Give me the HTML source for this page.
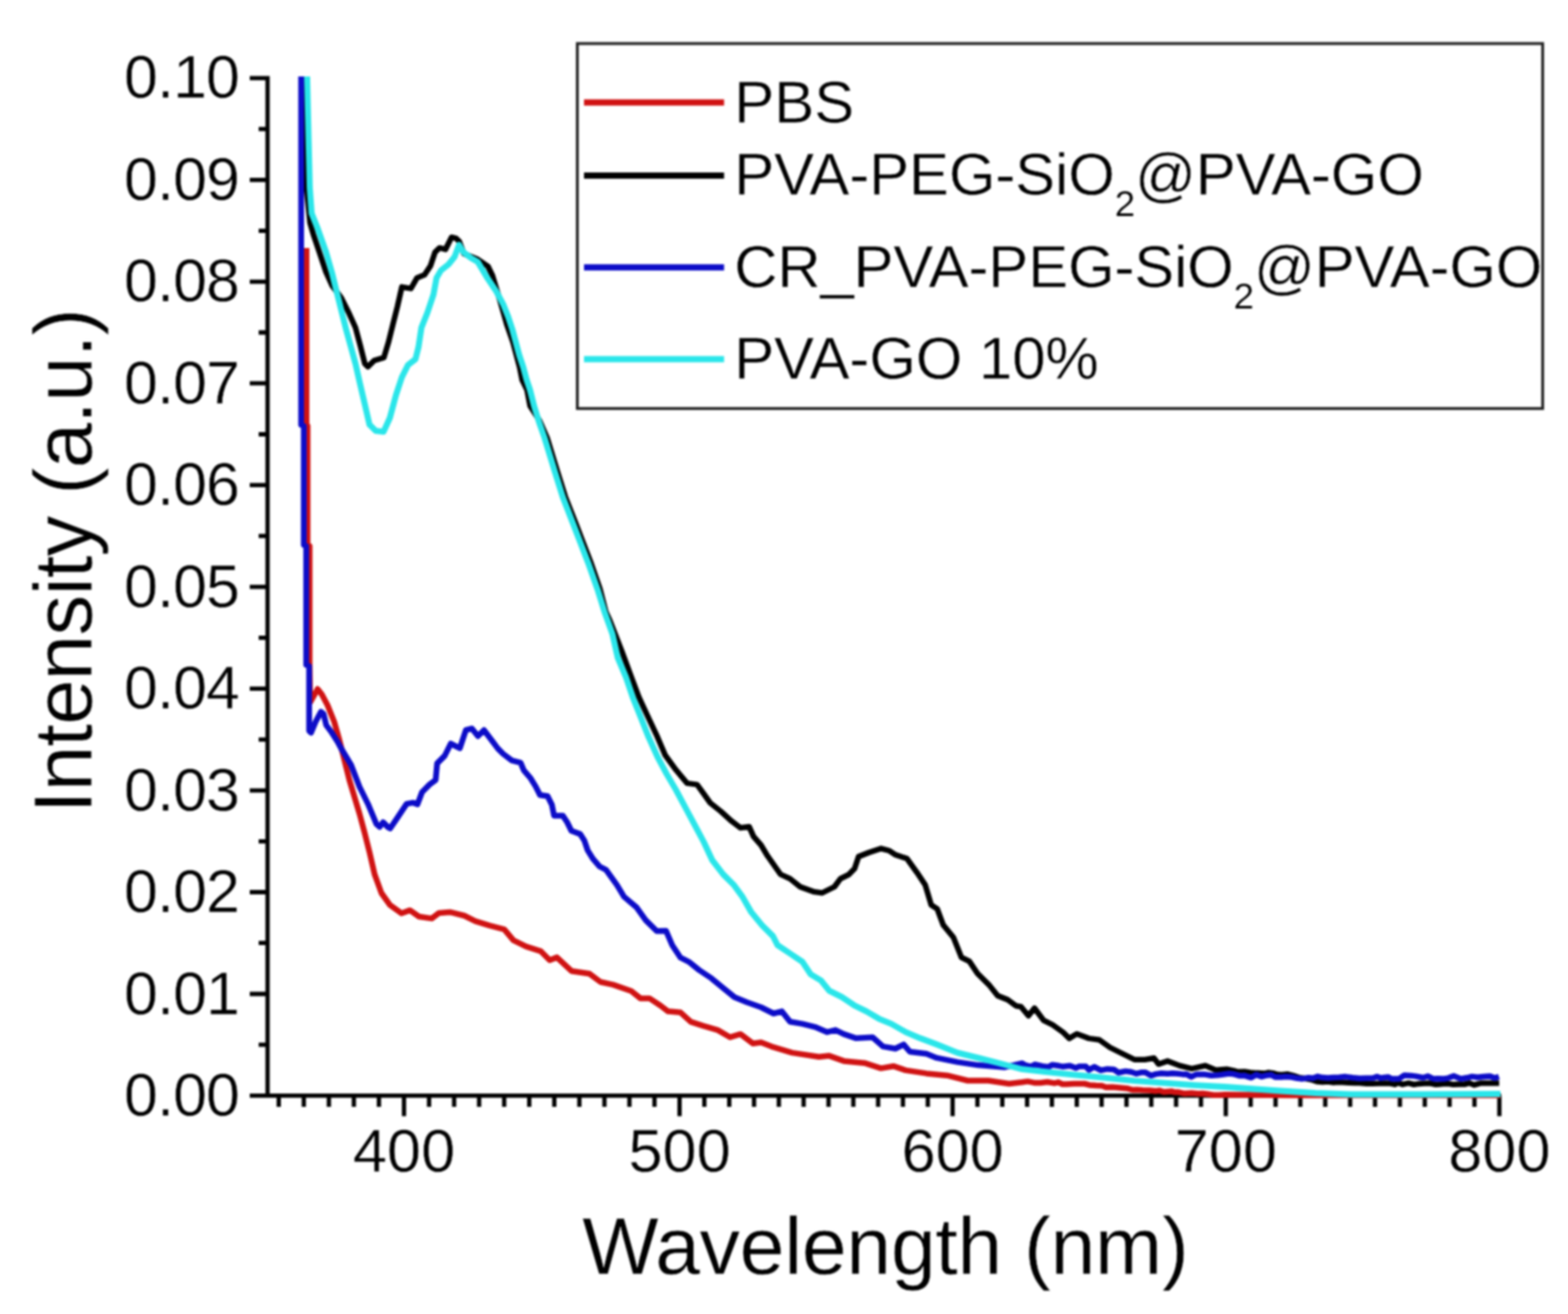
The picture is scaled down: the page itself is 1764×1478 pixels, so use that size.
<!DOCTYPE html>
<html><head><meta charset="utf-8"><title>Intensity vs Wavelength</title>
<style>
html,body{margin:0;padding:0;background:#fff;overflow:hidden;}
svg{display:block;filter:blur(1.0px);}
text{font-family:"Liberation Sans",Arial,Helvetica,sans-serif;fill:#000;stroke:#fff;stroke-width:0.5px;paint-order:normal;}
</style></head><body>
<svg width="1764" height="1478" viewBox="0 0 1764 1478">
<rect width="1764" height="1478" fill="#fff"/>

<path d="M281,87.9 H301.0 V1234.4 M281,1232.4 H1688.8 M281,1232.4 H301.0 M281,1118.0 H301.0 M281,1003.5 H301.0 M281,889.1 H301.0 M281,774.6 H301.0 M281,660.2 H301.0 M281,545.7 H301.0 M281,431.2 H301.0 M281,316.8 H301.0 M281,202.4 H301.0 M291,1175.2 H301.0 M291,1060.7 H301.0 M291,946.3 H301.0 M291,831.8 H301.0 M291,717.4 H301.0 M291,602.9 H301.0 M291,488.5 H301.0 M291,374.0 H301.0 M291,259.6 H301.0 M291,145.1 H301.0 M313.6,1232.4 V1245 M341.8,1232.4 V1245 M370.0,1232.4 V1245 M398.1,1232.4 V1245 M426.3,1232.4 V1245 M454.5,1232.4 V1255.5 M482.7,1232.4 V1245 M510.9,1232.4 V1245 M539.0,1232.4 V1245 M567.2,1232.4 V1245 M595.4,1232.4 V1245 M623.6,1232.4 V1245 M651.8,1232.4 V1245 M680.0,1232.4 V1245 M708.1,1232.4 V1245 M736.3,1232.4 V1245 M764.5,1232.4 V1255.5 M792.4,1232.4 V1245 M820.4,1232.4 V1245 M848.3,1232.4 V1245 M876.2,1232.4 V1245 M904.1,1232.4 V1245 M932.1,1232.4 V1245 M960.0,1232.4 V1245 M987.9,1232.4 V1245 M1015.8,1232.4 V1245 M1043.8,1232.4 V1245 M1071.7,1232.4 V1255.5 M1099.6,1232.4 V1245 M1127.6,1232.4 V1245 M1155.5,1232.4 V1245 M1183.4,1232.4 V1245 M1211.4,1232.4 V1245 M1239.3,1232.4 V1245 M1267.3,1232.4 V1245 M1295.2,1232.4 V1245 M1323.1,1232.4 V1245 M1351.1,1232.4 V1245 M1379.0,1232.4 V1255.5 M1407.0,1232.4 V1245 M1435.0,1232.4 V1245 M1462.9,1232.4 V1245 M1490.9,1232.4 V1245 M1518.9,1232.4 V1245 M1546.9,1232.4 V1245 M1574.9,1232.4 V1245 M1602.9,1232.4 V1245 M1630.8,1232.4 V1245 M1658.8,1232.4 V1245 M1686.8,1232.4 V1255.5" fill="none" stroke="#000" stroke-width="4.8" stroke-linecap="butt" stroke-linejoin="miter"/>
<path d="M344.8,279.0 L344.8,478.0 L346.0,479.0 L346.0,613.0 L348.3,614.0 L348.3,749.0 L349.0,790.0 L353.5,782.0 L357.3,775.0 L362.0,781.0 L368.5,793.3 L376.0,811.9 L381.7,832.0 L387.4,854.8 L393.1,877.5 L398.8,896.5 L404.5,915.5 L410.1,936.3 L415.8,959.0 L421.5,983.7 L429.1,1004.5 L438.6,1017.8 L451.8,1027.3 L461.2,1023.9 L471.4,1031.0 L485.7,1033.1 L493.9,1026.9 L506.1,1025.9 L522.4,1030.0 L534.7,1036.1 L551.0,1041.2 L567.3,1045.3 L577.6,1057.6 L591.8,1064.7 L608.2,1069.8 L618.4,1080.0 L626.5,1076.9 L642.9,1092.2 L663.3,1095.3 L675.5,1104.5 L689.8,1107.6 L710.2,1114.7 L720.4,1122.9 L730.6,1122.9 L742.9,1131.0 L751.6,1137.6 L765.6,1138.8 L777.2,1149.3 L791.1,1153.9 L807.4,1158.6 L821.4,1166.7 L833.0,1163.2 L846.9,1173.7 L856.2,1172.5 L867.8,1177.1 L891.1,1184.1 L921.3,1188.8 L932.9,1187.6 L949.2,1193.4 L972.5,1195.7 L991.0,1201.6 L1005.0,1199.2 L1018.9,1203.9 L1042.2,1207.4 L1065.4,1209.7 L1088.7,1215.5 L1111.9,1215.5 L1135.2,1219.0 L1150.0,1217.3 L1156.2,1216.4 L1163.5,1217.9 L1170.6,1217.9 L1178.2,1217.0 L1186.1,1218.4 L1190.7,1217.3 L1195.2,1219.5 L1199.8,1219.5 L1208.0,1219.1 L1212.1,1219.1 L1220.1,1219.0 L1225.5,1220.4 L1233.1,1221.0 L1239.6,1221.2 L1244.2,1223.0 L1251.4,1222.7 L1259.6,1223.4 L1267.7,1224.2 L1273.8,1225.9 L1278.9,1225.7 L1285.4,1226.3 L1293.5,1226.6 L1299.9,1227.3 L1304.2,1226.6 L1309.7,1228.3 L1317.8,1227.5 L1321.7,1228.6 L1326.2,1228.6 L1332.7,1230.1 L1340.6,1229.6 L1348.1,1230.3 L1352.8,1230.0 L1357.4,1230.4 L1365.1,1231.7 L1371.1,1231.7 L1377.8,1231.2 L1450.0,1232.0 L1688.0,1232.0" fill="none" stroke="#d01212" stroke-width="6.5" stroke-linejoin="round" stroke-linecap="butt"/>
<path d="M344.0,86.0 L344.5,150.0 L344.8,211.0 L348.8,250.6 L352.3,262.9 L359.4,284.0 L366.4,305.1 L373.5,321.0 L384.0,335.1 L392.8,352.7 L399.9,368.5 L405.1,387.9 L410.4,409.0 L413.9,412.5 L421.0,405.5 L431.8,402.3 L436.9,385.4 L442.0,365.1 L447.1,344.8 L452.1,322.8 L462.3,324.5 L469.1,312.6 L477.5,309.2 L484.3,299.1 L489.4,283.8 L494.5,278.8 L501.2,280.5 L508.0,266.9 L513.0,268.0 L516.6,271.5 L521.9,285.3 L536.8,291.3 L548.9,299.5 L554.0,310.0 L562.8,339.2 L570.4,365.8 L577.0,384.7 L584.6,413.1 L587.4,427.3 L592.9,438.7 L596.3,456.5 L606.8,472.9 L615.5,492.5 L627.5,531.6 L636.0,558.8 L648.0,589.5 L656.5,611.6 L665.0,633.7 L675.0,662.6 L681.5,688.1 L686.0,697.9 L699.4,732.1 L709.8,760.4 L718.7,784.2 L729.1,806.5 L739.6,828.9 L748.5,849.7 L760.5,866.1 L773.0,881.0 L784.2,882.5 L791.7,892.9 L799.0,903.1 L811.2,912.9 L823.3,923.8 L833.1,931.2 L842.8,929.9 L847.7,940.9 L856.2,950.6 L863.5,962.8 L872.1,975.0 L878.1,983.5 L888.8,988.4 L900.2,997.5 L916.1,1003.2 L925.1,1004.3 L938.7,997.5 L945.5,988.4 L954.6,983.9 L961.4,977.1 L965.9,963.5 L977.3,959.0 L990.9,954.4 L1000.0,956.7 L1006.8,961.2 L1020.4,965.8 L1031.7,981.6 L1040.8,995.2 L1047.6,1017.9 L1054.4,1022.4 L1061.2,1040.6 L1072.5,1054.2 L1081.6,1076.9 L1090.7,1081.4 L1099.7,1095.0 L1113.3,1108.6 L1122.4,1120.0 L1133.7,1124.5 L1142.8,1131.3 L1148.5,1132.3 L1157.0,1142.5 L1163.8,1134.0 L1174.0,1147.6 L1184.2,1152.7 L1196.1,1161.2 L1202.9,1168.0 L1211.4,1162.9 L1225.0,1168.0 L1236.9,1169.7 L1248.8,1178.2 L1262.4,1185.0 L1276.1,1191.8 L1288.0,1191.8 L1298.2,1190.1 L1303.3,1196.9 L1313.5,1193.5 L1327.1,1198.6 L1340.7,1202.0 L1356.0,1198.6 L1367.9,1203.7 L1380.0,1202.7 L1388.0,1204.3 L1391.9,1205.6 L1400.1,1205.3 L1406.5,1206.3 L1411.7,1206.8 L1415.6,1207.0 L1421.9,1207.5 L1426.5,1206.5 L1432.1,1207.1 L1437.5,1208.7 L1442.1,1208.9 L1448.7,1208.2 L1454.6,1209.8 L1461.5,1212.1 L1468.6,1213.2 L1476.4,1214.7 L1482.3,1216.7 L1488.0,1217.1 L1493.5,1216.7 L1500.3,1217.6 L1505.4,1217.2 L1510.0,1217.4 L1517.4,1217.8 L1524.0,1218.1 L1529.4,1218.0 L1537.3,1218.8 L1543.5,1218.8 L1551.3,1218.6 L1557.1,1218.3 L1564.2,1218.7 L1569.0,1219.8 L1572.8,1218.0 L1578.0,1219.8 L1584.5,1218.3 L1590.6,1219.9 L1596.4,1219.0 L1602.6,1218.7 L1608.4,1218.4 L1615.3,1219.8 L1619.0,1219.7 L1625.7,1218.8 L1630.5,1219.2 L1634.7,1219.9 L1642.0,1219.5 L1647.6,1219.6 L1652.8,1218.2 L1658.3,1220.4 L1666.3,1218.3 L1673.2,1218.4 L1679.9,1218.4 L1686.6,1218.4" fill="none" stroke="#000000" stroke-width="6.3" stroke-linejoin="round" stroke-linecap="butt"/>
<path d="M338.8,86.0 L338.8,478.0 L341.8,479.0 L341.8,613.0 L344.5,614.0 L344.5,748.0 L347.8,749.0 L347.8,822.0 L350.0,824.0 L355.0,812.0 L361.0,800.7 L364.0,803.0 L367.0,815.6 L372.2,822.6 L379.7,834.2 L383.6,841.5 L395.0,860.5 L404.5,885.1 L413.9,904.1 L423.4,926.8 L427.1,930.1 L431.0,924.9 L436.7,930.6 L439.0,931.8 L446.2,921.1 L457.5,904.1 L464.6,902.9 L469.7,904.6 L474.8,891.0 L483.3,882.4 L490.1,877.3 L491.8,858.6 L500.3,850.1 L507.1,836.5 L517.3,841.6 L524.1,821.2 L530.9,819.5 L537.7,828.0 L544.5,821.2 L554.7,834.8 L560.0,841.9 L566.1,848.0 L575.8,855.3 L585.6,857.8 L589.2,866.3 L596.5,874.8 L602.6,884.6 L607.5,894.3 L616.0,895.5 L620.9,905.3 L623.3,917.4 L633.1,917.4 L638.0,924.7 L642.8,934.5 L652.6,938.1 L657.4,945.5 L661.1,956.4 L667.2,966.2 L674.5,974.7 L681.8,978.3 L687.9,986.9 L694.0,995.4 L702.0,1008.6 L716.3,1020.8 L726.5,1035.1 L738.8,1047.3 L749.3,1047.0 L756.3,1063.2 L765.6,1077.2 L774.9,1081.8 L786.5,1091.1 L800.4,1100.4 L814.4,1112.1 L826.0,1121.4 L840.0,1127.2 L856.2,1133.0 L870.2,1140.0 L879.5,1137.6 L888.8,1149.3 L902.7,1151.6 L916.7,1155.1 L930.6,1160.9 L939.9,1158.6 L949.2,1163.2 L963.2,1167.8 L981.7,1166.7 L993.4,1177.1 L1007.3,1179.5 L1016.6,1174.8 L1023.6,1183.0 L1042.2,1185.3 L1053.8,1189.9 L1077.1,1194.6 L1100.3,1198.1 L1130.5,1200.4 L1150.0,1196.0 L1153.8,1198.2 L1159.5,1199.6 L1164.7,1197.3 L1172.7,1199.1 L1179.6,1200.2 L1184.0,1197.7 L1191.2,1198.8 L1195.3,1199.7 L1203.7,1198.8 L1210.3,1201.3 L1214.2,1199.6 L1221.5,1199.6 L1225.1,1203.4 L1231.0,1200.0 L1238.4,1203.9 L1245.8,1202.4 L1253.2,1203.0 L1258.4,1206.5 L1266.3,1204.9 L1272.7,1205.7 L1278.5,1207.7 L1284.6,1206.2 L1288.3,1206.2 L1295.0,1209.8 L1300.3,1208.1 L1306.6,1207.2 L1313.5,1207.7 L1319.2,1207.2 L1325.7,1207.8 L1330.5,1208.4 L1334.9,1208.3 L1340.0,1211.2 L1346.1,1208.4 L1354.5,1208.4 L1362.7,1209.7 L1370.3,1209.2 L1374.4,1208.7 L1382.7,1207.5 L1386.9,1207.9 L1394.8,1210.0 L1400.2,1209.8 L1407.4,1212.1 L1413.3,1208.9 L1419.1,1211.0 L1425.6,1209.4 L1430.3,1209.1 L1434.5,1211.5 L1441.5,1211.5 L1446.4,1210.9 L1453.3,1211.5 L1459.1,1212.8 L1465.3,1213.4 L1472.1,1212.2 L1477.1,1212.8 L1482.4,1210.8 L1487.7,1212.1 L1493.9,1212.6 L1500.2,1211.9 L1506.7,1211.7 L1513.6,1211.1 L1521.9,1212.3 L1529.5,1212.9 L1537.1,1212.7 L1545.1,1212.6 L1549.1,1210.9 L1553.3,1212.8 L1557.5,1211.9 L1561.6,1211.5 L1565.3,1213.4 L1573.6,1213.6 L1579.8,1209.5 L1587.6,1209.9 L1593.1,1210.6 L1601.0,1212.3 L1606.2,1210.5 L1612.8,1213.6 L1617.6,1213.2 L1624.4,1213.5 L1629.5,1212.6 L1635.4,1210.2 L1643.5,1213.5 L1650.5,1212.3 L1656.0,1210.9 L1662.3,1211.7 L1669.3,1210.9 L1676.2,1210.5 L1681.6,1212.6 L1686.3,1211.0" fill="none" stroke="#0c0cc8" stroke-width="6.5" stroke-linejoin="round" stroke-linecap="butt"/>
<path d="M345.5,86.0 L347.0,150.0 L348.5,211.0 L350.6,240.0 L357.6,257.6 L366.4,282.3 L373.5,306.9 L378.7,328.0 L384.0,349.2 L389.3,370.3 L394.6,389.6 L399.9,409.0 L405.1,431.9 L410.4,454.8 L415.7,477.7 L422.7,484.7 L431.5,485.6 L438.6,470.0 L445.4,444.6 L452.1,424.3 L458.9,410.7 L467.4,404.0 L470.8,390.4 L474.1,368.4 L480.9,351.5 L487.7,331.2 L491.1,312.6 L496.1,304.1 L504.6,297.4 L511.4,288.9 L516.4,275.4 L521.5,283.8 L529.4,289.8 L537.6,294.7 L548.9,313.7 L558.4,327.9 L566.0,342.1 L571.7,356.3 L576.4,370.5 L580.2,384.7 L584.0,398.9 L588.7,413.1 L592.5,427.3 L596.3,438.7 L600.8,456.5 L606.8,475.9 L612.6,492.5 L624.5,531.6 L633.0,558.8 L644.9,589.5 L653.4,611.6 L661.9,633.7 L672.1,662.6 L680.0,688.1 L688.9,712.8 L694.9,739.6 L704.3,761.9 L711.8,784.2 L720.7,806.5 L729.6,828.9 L739.6,851.2 L750.0,870.6 L760.4,888.4 L772.2,910.5 L781.9,928.7 L791.7,947.0 L801.4,967.7 L813.6,983.5 L825.8,995.7 L835.5,1009.1 L845.3,1026.2 L857.4,1040.8 L869.6,1053.0 L874.8,1063.2 L888.8,1072.5 L902.7,1081.8 L912.0,1095.8 L923.6,1102.8 L932.9,1114.4 L946.9,1121.4 L960.8,1130.7 L974.8,1137.6 L988.7,1145.8 L1002.7,1151.6 L1018.9,1160.9 L1035.2,1167.8 L1053.8,1174.8 L1077.1,1184.1 L1100.3,1189.9 L1123.5,1195.7 L1150.0,1202.7 L1174.0,1205.4 L1208.0,1208.8 L1242.0,1212.2 L1276.0,1215.6 L1310.0,1218.2 L1344.0,1220.7 L1378.0,1222.5 L1412.0,1225.0 L1440.0,1227.0 L1480.0,1229.5 L1520.0,1231.0 L1600.0,1231.0 L1688.0,1230.5" fill="none" stroke="#2ae6ea" stroke-width="6.8" stroke-linejoin="round" stroke-linecap="butt"/>
<text x="268.9" y="1254.9" font-size="68.5" text-anchor="end" letter-spacing="-1">0.00</text>
<text x="268.9" y="1140.5" font-size="68.5" text-anchor="end" letter-spacing="-1">0.01</text>
<text x="268.9" y="1026.0" font-size="68.5" text-anchor="end" letter-spacing="-1">0.02</text>
<text x="268.9" y="911.6" font-size="68.5" text-anchor="end" letter-spacing="-1">0.03</text>
<text x="268.9" y="797.1" font-size="68.5" text-anchor="end" letter-spacing="-1">0.04</text>
<text x="268.9" y="682.7" font-size="68.5" text-anchor="end" letter-spacing="-1">0.05</text>
<text x="268.9" y="568.2" font-size="68.5" text-anchor="end" letter-spacing="-1">0.06</text>
<text x="268.9" y="453.8" font-size="68.5" text-anchor="end" letter-spacing="-1">0.07</text>
<text x="268.9" y="339.3" font-size="68.5" text-anchor="end" letter-spacing="-1">0.08</text>
<text x="268.9" y="224.9" font-size="68.5" text-anchor="end" letter-spacing="-1">0.09</text>
<text x="268.9" y="110.4" font-size="68.5" text-anchor="end" letter-spacing="-1">0.10</text>
<text x="454.5" y="1317.5" font-size="69" text-anchor="middle">400</text>
<text x="764.5" y="1317.5" font-size="69" text-anchor="middle">500</text>
<text x="1071.7" y="1317.5" font-size="69" text-anchor="middle">600</text>
<text x="1379.0" y="1317.5" font-size="69" text-anchor="middle">700</text>
<text x="1686.8" y="1317.5" font-size="69" text-anchor="middle">800</text>
<text x="996" y="1433" font-size="91" text-anchor="middle" letter-spacing="-0.5">Wavelength (nm)</text>
<text transform="translate(102.5,631.2) rotate(-90)" font-size="92" text-anchor="middle" letter-spacing="-1.0">Intensity (a.u.)</text>
<rect x="649.5" y="49" width="1086" height="410.5" fill="#fff" stroke="#222" stroke-width="3.2"/>
<path d="M657,115.2 H814.6" stroke="#d01212" stroke-width="7"/>
<text x="825.9" y="138" font-size="67.5" letter-spacing="0.0">PBS</text>
<path d="M657,197.5 H814.6" stroke="#000000" stroke-width="7"/>
<text x="825.9" y="219.4" font-size="67.5" letter-spacing="-0.18">PVA-PEG-SiO<tspan font-size="41.5" dy="24" style="stroke-width:0.2px">2</tspan><tspan dy="-24">@PVA-GO</tspan></text>
<path d="M657,300.8 H814.6" stroke="#0c0cc8" stroke-width="7"/>
<text x="825.9" y="322.7" font-size="67.5" letter-spacing="-0.23">CR_PVA-PEG-SiO<tspan font-size="41.5" dy="24" style="stroke-width:0.2px">2</tspan><tspan dy="-24">@PVA-GO</tspan></text>
<path d="M657,404 H814.6" stroke="#2ae6ea" stroke-width="7"/>
<text x="825.9" y="425.6" font-size="67.5" letter-spacing="-0.13">PVA-GO 10%</text>
</svg>
</body></html>
